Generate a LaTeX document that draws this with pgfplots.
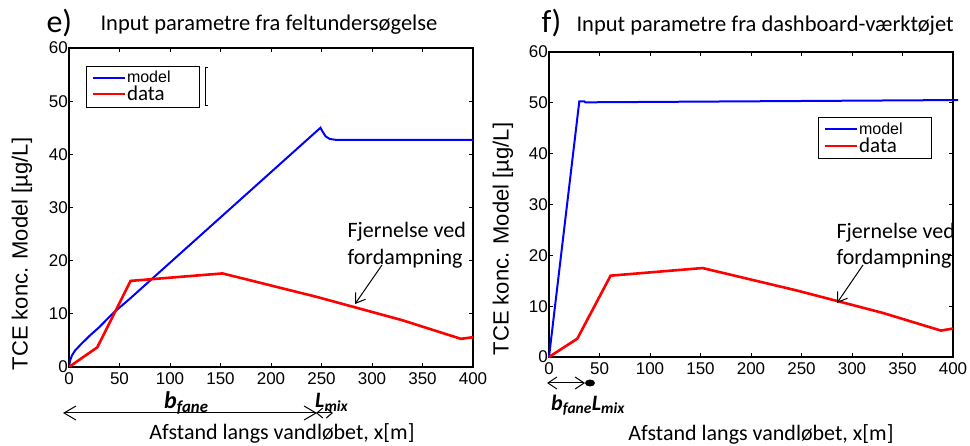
\documentclass[border=0pt]{standalone}
\usepackage{fontspec}
\setmainfont{Carlito}
\newfontfamily\arial{Liberation Sans}
\usepackage{pgfplots}
\pgfplotsset{compat=1.18}
\usetikzlibrary{arrows.meta}

\pgfplotsset{
  panel/.style={
    scale only axis, width=404pt,
    xmin=0, xmax=400, ymin=0, ymax=60,
    xtick={0,50,...,400}, ytick={0,10,...,60},
    tick align=inside, major tick length=4pt,
    axis line style={line width=1.1pt},
    every tick/.style={black, line width=0.8pt},
    /pgf/number format/assume math mode=true,
    xticklabel={\arial\fontsize{17}{18}\selectfont\pgfmathprintnumber{\tick}},
    yticklabel={\arial\fontsize{17}{18}\selectfont\pgfmathprintnumber{\tick}},
    xticklabel style={yshift=-2pt},
    yticklabel style={inner xsep=1pt},
    legend cell align=left,
    legend image code/.code={\draw[#1] (0pt,0pt) -- (32pt,0pt);},
    legend style={anchor=north west, draw=black, line width=0.9pt,
      inner xsep=5pt, inner ysep=4pt, row sep=0pt,
      nodes={inner sep=1pt, text width=66pt}},
  }
}

\begin{document}
\begin{tikzpicture}

% e) feltundersoegelse
\begin{axis}[panel, height=319pt, at={(69pt,-367pt)}, anchor=south west,
  legend style={at={(0.042,0.945)}}]
\addplot[blue, line width=2pt] coordinates {
  (0,0) (1,1.2) (3,2.2) (6,3.1) (11,4.1) (20,5.8) (30,7.5) (44,10.2)
  (60,12.8) (249,45) (251,44.3) (254,43.4) (258,42.9) (265,42.7) (400,42.7)};
\addlegendentry{\arial\fontsize{16}{17}\selectfont model}
\addplot[red, line width=2.6pt] coordinates {
  (0,0) (28,3.7) (61,16.2) (152,17.6) (245,13.2) (330,8.8) (388,5.3) (400,5.6)};
\addlegendentry{\fontsize{21}{21}\selectfont data}
\end{axis}

% f) dashboard-vaerktoejet
\begin{axis}[panel, height=305pt, at={(549pt,-357pt)}, anchor=south west,
  clip=false, legend style={at={(0.666,0.786)}}]
\addplot[blue, line width=2pt] coordinates {
  (0,0) (30,50.3) (35,50.3) (36,50.1) (405,50.55)};
\addlegendentry{\arial\fontsize{16}{17}\selectfont model}
\addplot[red, line width=2.6pt] coordinates {
  (0,0) (28,3.6) (61,16.0) (152,17.5) (245,13.1) (330,8.7) (388,5.2) (400,5.6)};
\addlegendentry{\fontsize{21}{21}\selectfont data}
\end{axis}

% titles
\node[font=\fontsize{32}{32}\selectfont, anchor=base west] at (43pt,-33pt) {e)};
\node[font=\fontsize{22.5}{24}\selectfont, anchor=base west] at (97pt,-31pt) {Input parametre fra feltundersøgelse};
\node[font=\fontsize{32}{32}\selectfont, anchor=base west] at (538pt,-33pt) {f)};
\node[font=\fontsize{22.5}{24}\selectfont, anchor=base west] at (573pt,-32pt) {Input parametre fra dashboard-værktøjet};

% y labels
\node[font=\arial\fontsize{22}{24}\selectfont, rotate=90] at (22pt,-254pt) {TCE konc. Model [µg/L]};
\node[font=\arial\fontsize{22}{24}\selectfont, rotate=90] at (503pt,-239pt) {TCE konc. Model [µg/L]};

% x labels
\node[font=\fontsize{22}{24}\selectfont] at (282pt,-433pt) {Afstand langs vandløbet, x[m]};
\node[font=\fontsize{22}{24}\selectfont] at (761pt,-434pt) {Afstand langs vandløbet, x[m]};

% stray bracket next to legend
\draw[line width=0.8pt] (208pt,-67pt) -- (205pt,-67pt) -- (205pt,-105pt) -- (208pt,-105pt);

% annotation e)
\node[font=\fontsize{22}{24}\selectfont, anchor=west] at (344pt,-232pt) {Fjernelse ved};
\node[font=\fontsize{22}{24}\selectfont, anchor=west] at (344pt,-259pt) {fordampning};
\draw[line width=1pt, -{Straight Barb[length=9pt, width=12pt]}] (382pt,-265pt) -- (355pt,-304pt);

% annotation f)
\begin{scope}
\clip (549pt,-52pt) rectangle (952pt,-357pt);
\node[font=\fontsize{22}{24}\selectfont, anchor=west] at (833pt,-233pt) {Fjernelse ved};
\node[font=\fontsize{22}{24}\selectfont, anchor=west] at (833pt,-259pt) {fordampning};
\end{scope}
\draw[line width=1pt, -{Straight Barb[length=9pt, width=12pt]}] (863pt,-265pt) -- (837pt,-303pt);

% b_fane / L_mix e)
\draw[line width=1pt, {Straight Barb[length=12pt, width=14pt]}-{Straight Barb[length=12pt, width=14pt]}] (63pt,-413pt) -- (317pt,-413pt);
\draw[line width=1pt, {Straight Barb[length=6pt, width=10pt]}-{Straight Barb[length=6pt, width=10pt]}] (316pt,-413pt) -- (333pt,-413pt);
\node[font=\fontsize{24}{24}\selectfont\bfseries\itshape, anchor=base west, inner sep=0pt] at (164pt,-409pt) {b\textsubscript{fane}};
\node[font=\fontsize{22}{22}\selectfont\bfseries\itshape, anchor=base west, inner sep=0pt] at (315pt,-408pt) {L\textsubscript{mix}};

% b_fane / L_mix f)
\draw[line width=1pt, {Straight Barb[length=9pt, width=12pt]}-{Straight Barb[length=9pt, width=12pt]}] (547pt,-383pt) -- (585pt,-383pt);
\fill (590pt,-383pt) ellipse [x radius=5pt, y radius=3.5pt];
\node[font=\fontsize{22}{22}\selectfont\bfseries\itshape, anchor=base west, inner sep=0pt] at (551pt,-410pt) {b\textsubscript{fane}L\textsubscript{mix}};

\pgfresetboundingbox
\useasboundingbox (0pt,0pt) rectangle (970pt,-446pt);
\end{tikzpicture}
\end{document}
